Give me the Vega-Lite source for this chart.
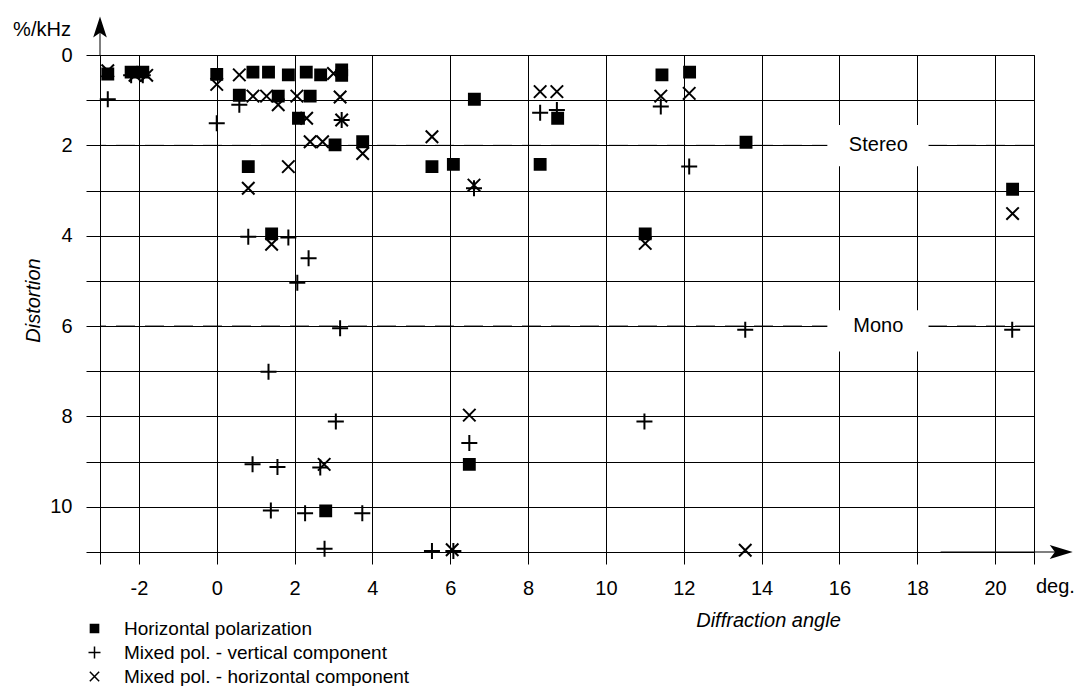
{
  "$schema": "https://vega.github.io/schema/vega-lite/v6.json",
  "width": 934,
  "height": 497,
  "autosize": {"type": "none"},
  "padding": {"left": 100, "top": 55, "right": 40, "bottom": 134},
  "background": "white",
  "config": {
    "font": "Liberation Sans",
    "view": {"stroke": "black", "strokeWidth": 1},
    "axis": {"domain": false, "grid": true, "gridColor": "black", "gridOpacity": 1, "gridWidth": 1, "tickColor": "black", "tickWidth": 1, "labelColor": "black", "labelFontSize": 20, "titleColor": "black", "titleFontSize": 20, "titleFontWeight": "normal", "titleFontStyle": "italic"},
    "legend": {"orient": "none", "legendX": -15, "legendY": 564, "title": null, "labelFontSize": 19, "labelColor": "black", "labelLimit": 0, "symbolSize": 144, "symbolStrokeWidth": 1.5, "rowPadding": 4, "labelOffset": 20}
  },
  "datasets": {
    "pts": [
      {"s": "Horizontal polarization", "angle": -2.8, "dist": 0.42},
      {"s": "Horizontal polarization", "angle": -2.2, "dist": 0.38},
      {"s": "Horizontal polarization", "angle": -1.9, "dist": 0.38},
      {"s": "Horizontal polarization", "angle": 0, "dist": 0.43},
      {"s": "Horizontal polarization", "angle": 0.93, "dist": 0.38},
      {"s": "Horizontal polarization", "angle": 1.33, "dist": 0.38},
      {"s": "Horizontal polarization", "angle": 1.84, "dist": 0.44},
      {"s": "Horizontal polarization", "angle": 2.3, "dist": 0.38},
      {"s": "Horizontal polarization", "angle": 2.67, "dist": 0.44},
      {"s": "Horizontal polarization", "angle": 3.21, "dist": 0.33},
      {"s": "Horizontal polarization", "angle": 3.21, "dist": 0.45},
      {"s": "Horizontal polarization", "angle": 0.58, "dist": 0.89},
      {"s": "Horizontal polarization", "angle": 1.58, "dist": 0.91},
      {"s": "Horizontal polarization", "angle": 2.4, "dist": 0.91},
      {"s": "Horizontal polarization", "angle": 2.1, "dist": 1.4},
      {"s": "Horizontal polarization", "angle": 3.04, "dist": 1.99},
      {"s": "Horizontal polarization", "angle": 3.75, "dist": 1.92},
      {"s": "Horizontal polarization", "angle": 0.81, "dist": 2.47},
      {"s": "Horizontal polarization", "angle": 1.41, "dist": 3.96},
      {"s": "Horizontal polarization", "angle": 2.8, "dist": 10.09},
      {"s": "Horizontal polarization", "angle": 6.62, "dist": 0.98},
      {"s": "Horizontal polarization", "angle": 5.53, "dist": 2.47},
      {"s": "Horizontal polarization", "angle": 6.08, "dist": 2.42},
      {"s": "Horizontal polarization", "angle": 8.76, "dist": 1.4},
      {"s": "Horizontal polarization", "angle": 8.31, "dist": 2.42},
      {"s": "Horizontal polarization", "angle": 11.44, "dist": 0.44},
      {"s": "Horizontal polarization", "angle": 12.15, "dist": 0.38},
      {"s": "Horizontal polarization", "angle": 11.01, "dist": 3.96},
      {"s": "Horizontal polarization", "angle": 6.49, "dist": 9.06},
      {"s": "Horizontal polarization", "angle": 13.6, "dist": 1.93},
      {"s": "Horizontal polarization", "angle": 20.45, "dist": 2.97},
      {"s": "Mixed pol. - vertical component", "angle": -2.8, "dist": 0.98},
      {"s": "Mixed pol. - vertical component", "angle": -2.2, "dist": 0.45},
      {"s": "Mixed pol. - vertical component", "angle": -1.9, "dist": 0.45},
      {"s": "Mixed pol. - vertical component", "angle": 0, "dist": 1.51},
      {"s": "Mixed pol. - vertical component", "angle": 0.58, "dist": 1.1},
      {"s": "Mixed pol. - vertical component", "angle": 3.21, "dist": 1.44},
      {"s": "Mixed pol. - vertical component", "angle": 0.81, "dist": 4.02},
      {"s": "Mixed pol. - vertical component", "angle": 1.84, "dist": 4.04},
      {"s": "Mixed pol. - vertical component", "angle": 2.36, "dist": 4.5},
      {"s": "Mixed pol. - vertical component", "angle": 2.07, "dist": 5.04},
      {"s": "Mixed pol. - vertical component", "angle": 3.17, "dist": 6.05},
      {"s": "Mixed pol. - vertical component", "angle": 1.33, "dist": 7.01},
      {"s": "Mixed pol. - vertical component", "angle": 3.06, "dist": 8.11},
      {"s": "Mixed pol. - vertical component", "angle": 0.92, "dist": 9.06},
      {"s": "Mixed pol. - vertical component", "angle": 1.56, "dist": 9.12},
      {"s": "Mixed pol. - vertical component", "angle": 2.66, "dist": 9.13},
      {"s": "Mixed pol. - vertical component", "angle": 1.39, "dist": 10.08},
      {"s": "Mixed pol. - vertical component", "angle": 2.27, "dist": 10.14},
      {"s": "Mixed pol. - vertical component", "angle": 3.74, "dist": 10.14},
      {"s": "Mixed pol. - vertical component", "angle": 2.77, "dist": 10.93},
      {"s": "Mixed pol. - vertical component", "angle": 6.61, "dist": 2.95},
      {"s": "Mixed pol. - vertical component", "angle": 8.31, "dist": 1.28},
      {"s": "Mixed pol. - vertical component", "angle": 8.74, "dist": 1.22},
      {"s": "Mixed pol. - vertical component", "angle": 11.41, "dist": 1.14},
      {"s": "Mixed pol. - vertical component", "angle": 12.14, "dist": 2.47},
      {"s": "Mixed pol. - vertical component", "angle": 6.49, "dist": 8.59},
      {"s": "Mixed pol. - vertical component", "angle": 10.99, "dist": 8.11},
      {"s": "Mixed pol. - vertical component", "angle": 5.53, "dist": 10.98},
      {"s": "Mixed pol. - vertical component", "angle": 6.08, "dist": 10.98},
      {"s": "Mixed pol. - vertical component", "angle": 13.58, "dist": 6.08},
      {"s": "Mixed pol. - vertical component", "angle": 20.44, "dist": 6.08},
      {"s": "Mixed pol. - horizontal component", "angle": -2.8, "dist": 0.35},
      {"s": "Mixed pol. - horizontal component", "angle": -2.1, "dist": 0.45},
      {"s": "Mixed pol. - horizontal component", "angle": -1.8, "dist": 0.45},
      {"s": "Mixed pol. - horizontal component", "angle": 0, "dist": 0.65},
      {"s": "Mixed pol. - horizontal component", "angle": 0.58, "dist": 0.44},
      {"s": "Mixed pol. - horizontal component", "angle": 3.0, "dist": 0.41},
      {"s": "Mixed pol. - horizontal component", "angle": 0.93, "dist": 0.91},
      {"s": "Mixed pol. - horizontal component", "angle": 1.28, "dist": 0.91},
      {"s": "Mixed pol. - horizontal component", "angle": 1.58, "dist": 1.1},
      {"s": "Mixed pol. - horizontal component", "angle": 2.06, "dist": 0.91},
      {"s": "Mixed pol. - horizontal component", "angle": 3.17, "dist": 0.93},
      {"s": "Mixed pol. - horizontal component", "angle": 2.31, "dist": 1.4},
      {"s": "Mixed pol. - horizontal component", "angle": 3.21, "dist": 1.44},
      {"s": "Mixed pol. - horizontal component", "angle": 2.4, "dist": 1.92},
      {"s": "Mixed pol. - horizontal component", "angle": 2.72, "dist": 1.92},
      {"s": "Mixed pol. - horizontal component", "angle": 3.75, "dist": 2.18},
      {"s": "Mixed pol. - horizontal component", "angle": 0.81, "dist": 2.95},
      {"s": "Mixed pol. - horizontal component", "angle": 1.84, "dist": 2.47},
      {"s": "Mixed pol. - horizontal component", "angle": 1.41, "dist": 4.19},
      {"s": "Mixed pol. - horizontal component", "angle": 2.76, "dist": 9.06},
      {"s": "Mixed pol. - horizontal component", "angle": 5.53, "dist": 1.81},
      {"s": "Mixed pol. - horizontal component", "angle": 6.61, "dist": 2.88},
      {"s": "Mixed pol. - horizontal component", "angle": 8.31, "dist": 0.81},
      {"s": "Mixed pol. - horizontal component", "angle": 8.74, "dist": 0.81},
      {"s": "Mixed pol. - horizontal component", "angle": 11.41, "dist": 0.91},
      {"s": "Mixed pol. - horizontal component", "angle": 12.14, "dist": 0.85},
      {"s": "Mixed pol. - horizontal component", "angle": 11.01, "dist": 4.17},
      {"s": "Mixed pol. - horizontal component", "angle": 6.49, "dist": 7.97},
      {"s": "Mixed pol. - horizontal component", "angle": 6.05, "dist": 10.95},
      {"s": "Mixed pol. - horizontal component", "angle": 20.45, "dist": 3.51},
      {"s": "Mixed pol. - horizontal component", "angle": 13.58, "dist": 10.96}
    ],
    "levels": [
      {"level": 2, "name": "Stereo", "lo": 1.55, "hi": 2.46},
      {"level": 6, "name": "Mono", "lo": 5.65, "hi": 6.56}
    ],
    "one": [{}]
  },
  "layer": [
    {
      "data": {"name": "levels"},
      "mark": {"type": "rule", "color": "black", "strokeWidth": 1, "strokeDash": [19, 10]},
      "encoding": {
        "y": {"field": "level", "type": "quantitative", "scale": {"domain": [0, 11], "reverse": true, "nice": false, "zero": false},
          "axis": {"values": [0, 1, 2, 3, 4, 5, 6, 7, 8, 9, 10, 11], "labelExpr": "datum.value % 2 == 0 && datum.value <= 10 ? datum.label : ''", "tickSize": 14, "labelPadding": 14, "title": "Distortion", "titleAngle": -90, "titleX": -67, "titleY": 245, "titleAlign": "center", "titleBaseline": "middle"}}
      }
    },
    {
      "data": {"name": "levels"},
      "mark": {"type": "rect", "fill": "white", "stroke": null},
      "encoding": {
        "x": {"datum": 15.69, "type": "quantitative"},
        "x2": {"datum": 18.29},
        "y": {"field": "lo", "type": "quantitative"},
        "y2": {"field": "hi"}
      }
    },
    {
      "data": {"name": "levels"},
      "mark": {"type": "text", "fontSize": 20, "color": "black", "align": "center", "baseline": "middle"},
      "encoding": {
        "x": {"datum": 17, "type": "quantitative"},
        "y": {"field": "level", "type": "quantitative"},
        "text": {"field": "name"}
      }
    },
    {
      "data": {"name": "pts"},
      "mark": {"type": "point", "strokeWidth": 2, "opacity": 1, "size": 256},
      "encoding": {
        "x": {"field": "angle", "type": "quantitative", "scale": {"domain": [-3, 21], "nice": false, "zero": false},
          "axis": {"values": [-3, -2, 0, 2, 4, 6, 8, 10, 12, 14, 16, 18, 20, 21], "labelExpr": "datum.value < -2 || datum.value > 20 ? '' : replace(datum.label, '−', '-')", "tickSize": 12, "labelPadding": 14, "title": "Diffraction angle", "titleX": 668, "titleY": 68, "titleAlign": "center", "titleBaseline": "middle"}},
        "y": {"field": "dist", "type": "quantitative"},
        "shape": {"field": "s", "type": "nominal", "scale": {"domain": ["Horizontal polarization", "Mixed pol. - vertical component", "Mixed pol. - horizontal component"], "range": ["M-0.68,-0.68H0.68V0.68H-0.68Z", "M-1,0H1M0,-1V1", "M-0.78,-0.78L0.78,0.78M-0.78,0.78L0.78,-0.78"]}},
        "fill": {"field": "s", "type": "nominal", "scale": {"domain": ["Horizontal polarization", "Mixed pol. - vertical component", "Mixed pol. - horizontal component"], "range": ["black", "transparent", "transparent"]}},
        "stroke": {"field": "s", "type": "nominal", "scale": {"domain": ["Horizontal polarization", "Mixed pol. - vertical component", "Mixed pol. - horizontal component"], "range": ["black", "black", "black"]}}
      }
    },
    {
      "data": {"name": "one"},
      "mark": {"type": "rule", "color": "black", "strokeWidth": 1},
      "encoding": {"x": {"datum": 18.6, "type": "quantitative"}, "x2": {"datum": 21.7}, "y": {"datum": 11, "type": "quantitative"}}
    },
    {
      "data": {"name": "one"},
      "mark": {"type": "rule", "color": "black", "strokeWidth": 1},
      "encoding": {"x": {"datum": -3, "type": "quantitative"}, "y": {"datum": -0.6, "type": "quantitative"}, "y2": {"datum": 0}}
    },
    {
      "data": {"name": "one"},
      "mark": {"type": "point", "filled": true, "color": "black", "opacity": 1, "size": 529, "shape": "M1,0L-1,-0.6L-0.55,0L-1,0.6Z"},
      "encoding": {"x": {"datum": 21.7, "type": "quantitative"}, "y": {"datum": 11, "type": "quantitative"}}
    },
    {
      "data": {"name": "one"},
      "mark": {"type": "point", "filled": true, "color": "black", "opacity": 1, "size": 441, "shape": "M0,-1L-0.65,1L0,0.55L0.65,1Z"},
      "encoding": {"x": {"datum": -3, "type": "quantitative"}, "y": {"datum": -0.62, "type": "quantitative"}}
    },
    {
      "data": {"name": "one"},
      "mark": {"type": "text", "fontSize": 20, "color": "black", "align": "center", "baseline": "middle"},
      "encoding": {"x": {"datum": -4.49, "type": "quantitative"}, "y": {"datum": -0.56, "type": "quantitative"}, "text": {"value": "%/kHz"}}
    },
    {
      "data": {"name": "one"},
      "mark": {"type": "text", "fontSize": 20, "color": "black", "align": "center", "baseline": "middle"},
      "encoding": {"x": {"datum": 21.55, "type": "quantitative"}, "y": {"datum": 11.78, "type": "quantitative"}, "text": {"value": "deg."}}
    }
  ]
}
